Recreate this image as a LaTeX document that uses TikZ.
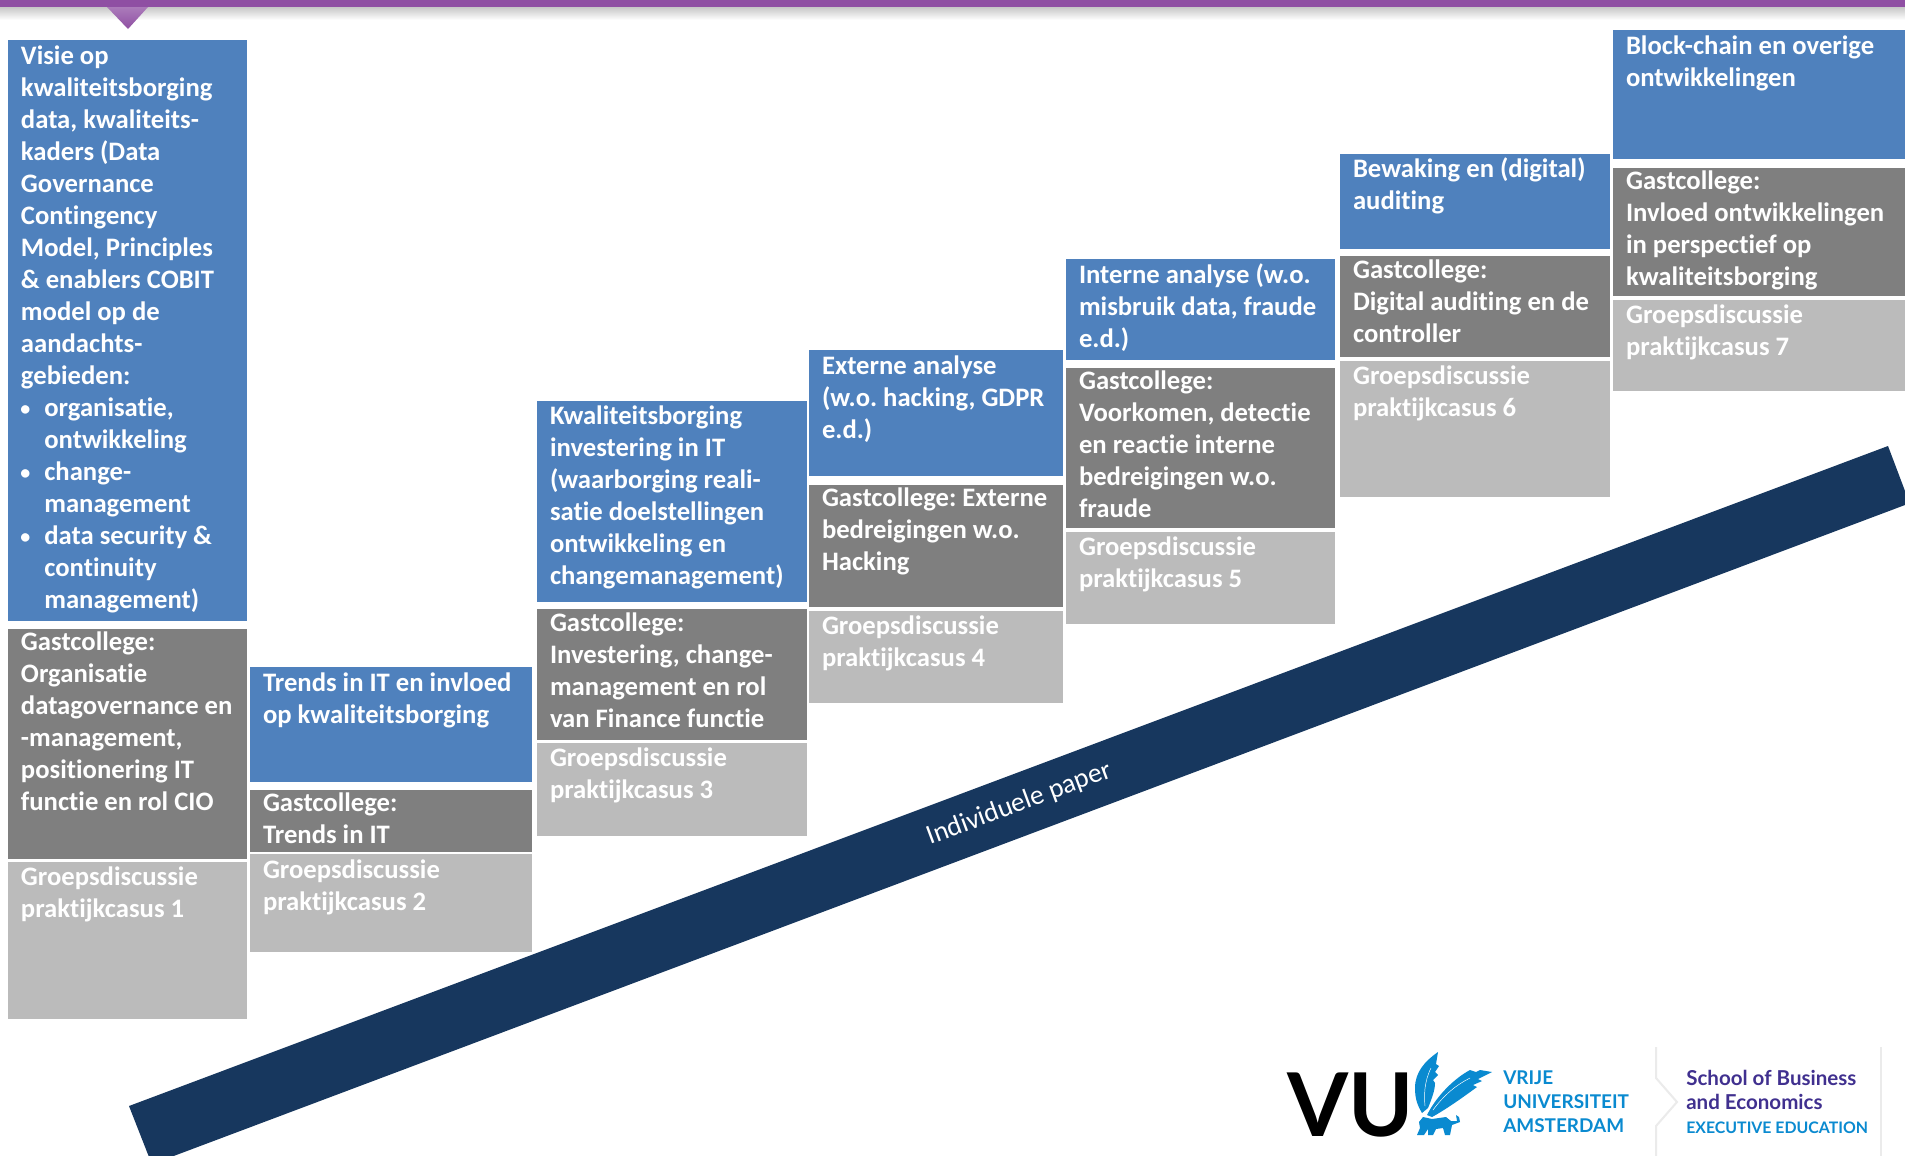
\documentclass[tikz,border=0pt]{standalone}
\usepackage{fontspec}
\setmainfont[Ligatures=NoCommon]{Carlito}
\newfontfamily\logofont{Lato}
\definecolor{cblue}{HTML}{4F81BD}
\definecolor{cgray}{HTML}{7F7F7F}
\definecolor{clight}{HTML}{BBBBBB}
\definecolor{cnavy}{HTML}{17375E}
\definecolor{cpurple}{HTML}{8F4FA3}
\definecolor{clogo}{HTML}{0A8AD0}
\definecolor{cdeep}{HTML}{40308F}
\newcommand{\bul}{\makebox[17.5pt][l]{\hspace{-0.5pt}\raisebox{1pt}{\fontsize{15}{15}\selectfont•}}}
\newcommand{\ind}{\hspace*{17.5pt}}
\frenchspacing
\tikzset{
  x=0.75pt,y=-0.75pt,
  label/.style={inner sep=0pt,outer sep=0pt,anchor=base west,text=white,font=\fontsize{20}{24}\selectfont\bfseries},
  logotxt/.style={inner sep=0pt,anchor=base west,font=\fontsize{14.2}{15}\selectfont\bfseries\logofont},
  streak/.style={draw=white,line width=0.35pt}
}
% name, x1,y1,x2,y2,colour,baseline,text
\newcommand{\pnl}[8]{%
  \path[fill=#6] (#2,#3) rectangle (#4,#5);
  \node[label] (#1) at ({#2+13},#7) {\parbox[t]{\dimexpr(#4pt-#2pt-14pt)*3/4\relax}{\raggedright\frenchspacing #8}};
}
\begin{document}
\begin{tikzpicture}
\useasboundingbox (0,0) rectangle (1905,1155.5);
\fill[white] (0,0) rectangle (1905,1157);
% top bar
\shade[top color=black!22,bottom color=white] (0,7) rectangle (1905,20);
\fill[cpurple] (0,0) rectangle (1905,7);
\shade[top color=cpurple!75,bottom color=cpurple] (107,7) -- (148,7) -- (128,29) -- cycle;
% column 1
\pnl{a1}{8}{40}{247}{621}{cblue}{64.5}{Visie op\\kwaliteitsborging\\data, kwaliteits-\\kaders (Data\\Governance\\Contingency\\Model, Principles\\\& enablers COBIT\\model op de\\aandachts-\\gebieden:\\\bul organisatie,\\\ind ontwikkeling\\\bul change-\\\ind management\\\bul data security \&\\\ind continuity\\\ind management)}
\pnl{b1}{8}{629}{247}{859}{cgray}{650}{Gastcollege:\\Organisatie\\datagovernance en\\-management,\\positionering IT\\functie en rol CIO}
\pnl{c1}{8}{862}{247}{1019}{clight}{885}{Groepsdiscussie\\praktijkcasus 1}
% column 2
\pnl{a2}{250}{667}{532}{782}{cblue}{691}{Trends in IT en invloed\\op kwaliteitsborging}
\pnl{b2}{250}{790}{532}{852}{cgray}{811}{Gastcollege:\\Trends in IT}
\pnl{c2}{250}{854}{532}{952}{clight}{878}{Groepsdiscussie\\praktijkcasus 2}
% column 3
\pnl{a3}{537}{401}{807}{602}{cblue}{424.5}{Kwaliteitsborging\\investering in IT\\(waarborging reali-\\satie doelstellingen\\ontwikkeling en\\changemanagement)}
\pnl{b3}{537}{609}{807}{740}{cgray}{631}{Gastcollege:\\Investering, change-\\management en rol\\van Finance functie}
\pnl{c3}{537}{743}{807}{836}{clight}{766.5}{Groepsdiscussie\\praktijkcasus 3}
% column 4
\pnl{a4}{809}{350}{1063}{476}{cblue}{374}{Externe analyse\\(w.o. hacking, GDPR\\e.d.)}
\pnl{b4}{809}{485}{1063}{607}{cgray}{506}{Gastcollege: Externe\\bedreigingen w.o.\\Hacking}
\pnl{c4}{809}{611}{1063}{703}{clight}{634}{Groepsdiscussie\\praktijkcasus 4}
% column 5
\pnl{a5}{1066}{259}{1335}{360}{cblue}{283}{Interne analyse (w.o.\\misbruik data, fraude\\e.d.)}
\pnl{b5}{1066}{368}{1335}{528}{cgray}{389.5}{Gastcollege:\\Voorkomen, detectie\\en reactie interne\\bedreigingen w.o.\\fraude}
\pnl{c5}{1066}{532}{1335}{624}{clight}{555}{Groepsdiscussie\\praktijkcasus 5}
% column 6
\pnl{a6}{1340}{154}{1610}{249}{cblue}{177}{Bewaking en (digital)\\auditing}
\pnl{b6}{1340}{256}{1610}{357}{cgray}{278}{Gastcollege:\\Digital auditing en de\\controller}
\pnl{c6}{1340}{361}{1610}{497}{clight}{384}{Groepsdiscussie\\praktijkcasus 6}
% column 7
\pnl{a7}{1613}{30}{1905}{159}{cblue}{54.5}{Block-chain en overige\\ontwikkelingen}
\pnl{b7}{1613}{168}{1905}{296}{cgray}{189}{Gastcollege:\\Invloed ontwikkelingen\\in perspectief op\\kwaliteitsborging}
\pnl{c7}{1613}{300}{1905}{391}{clight}{323}{Groepsdiscussie\\praktijkcasus 7}
% diagonal band
\fill[cnavy] (129,1106) -- (1888,446) -- (1905,491) -- (1905,505) -- (171,1157) -- (149,1157) -- cycle;
\node[inner sep=0,text=white,rotate=20.5,font=\fontsize{20.6}{24}\selectfont] (paper) at (1019.5,804) {Individuele paper};
% logo
\node[inner sep=0,anchor=base west,font=\fontsize{66}{70}\selectfont\bfseries\logofont] (vu) at (1287,1136) {VU};
\fill[clogo] (1438,1052) .. controls (1425,1061) and (1415,1072) .. (1415,1088) .. controls (1415,1100) and (1418,1106) .. (1422,1113) -- (1428,1108) .. controls (1432,1098) and (1435,1090) .. (1435,1083) -- (1433,1080) -- (1438,1075) -- (1435,1072) -- (1439,1066) -- (1436,1064) -- cycle;
\fill[clogo] (1492,1072) -- (1480,1070) -- (1476,1072) -- (1470,1070) .. controls (1455,1078) and (1437,1095) .. (1427,1115) -- (1432,1117) .. controls (1445,1110) and (1462,1098) .. (1477,1087) -- (1473,1085) -- (1482,1081) -- (1478,1079) -- cycle;
\draw[streak] (1431,1068) .. controls (1424,1082) and (1424,1096) .. (1425,1106);
\draw[streak] (1470,1078) .. controls (1456,1085) and (1444,1095) .. (1433,1110);
\fill[clogo] (1417,1135) -- (1420,1128) -- (1419,1122) -- (1423,1117) -- (1432,1119) -- (1446,1117) -- (1451,1121) -- (1457,1121) -- (1456,1115) -- (1459,1117) -- (1460,1122) -- (1452,1125) -- (1450,1135) -- (1445,1135) -- (1443,1128) -- (1436,1129) -- (1433,1135) -- (1428,1135) -- (1428,1129) -- (1424,1135) -- cycle;
\node[logotxt,text=clogo] (vrije) at (1503,1084) {VRIJE};
\node[logotxt,text=clogo] (univ) at (1503,1108) {UNIVERSITEIT};
\node[logotxt,text=clogo] (amst) at (1503,1132) {AMSTERDAM};
\node[logotxt,text=cdeep,font=\fontsize{15.4}{16}\selectfont\bfseries\logofont] (sob) at (1686,1085) {School of Business};
\node[logotxt,text=cdeep,font=\fontsize{15.4}{16}\selectfont\bfseries\logofont] (eco) at (1686,1109) {and Economics};
\node[logotxt,text=clogo,font=\fontsize{11.9}{15}\selectfont\bfseries\logofont] (exec) at (1686,1133) {EXECUTIVE EDUCATION};
\draw[black!8,line width=1.5pt] (1656,1047) -- (1656,1078) -- (1677,1102) -- (1656,1126) -- (1656,1157);
\draw[black!8,line width=1.5pt] (1881,1047) -- (1881,1157);
\end{tikzpicture}
\end{document}
